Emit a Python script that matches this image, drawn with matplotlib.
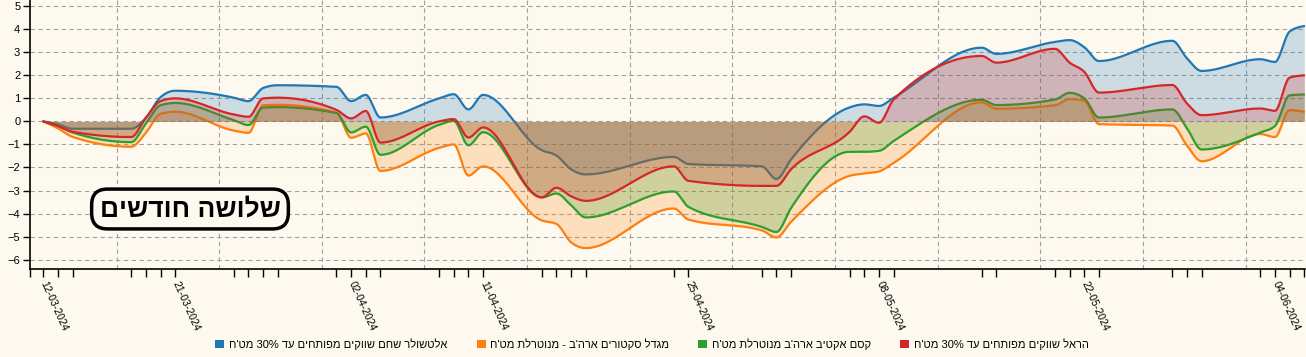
import re
import numpy as np
import pandas as pd
import matplotlib
matplotlib.use("Agg")
import matplotlib.pyplot as plt
import matplotlib.dates as mdates
from matplotlib.patches import Patch

# trading days shown on the chart
dates = ["2024-03-12", "2024-03-13", "2024-03-14", "2024-03-18", "2024-03-19", "2024-03-20", "2024-03-21",
         "2024-03-25", "2024-03-26", "2024-03-27", "2024-03-28",
         "2024-04-01", "2024-04-02", "2024-04-03", "2024-04-04",
         "2024-04-08", "2024-04-09", "2024-04-10", "2024-04-11",
         "2024-04-15", "2024-04-16", "2024-04-17", "2024-04-18",
         "2024-04-24", "2024-04-25",
         "2024-04-30", "2024-05-01", "2024-05-02",
         "2024-05-06", "2024-05-07", "2024-05-08", "2024-05-09",
         "2024-05-15", "2024-05-16",
         "2024-05-20", "2024-05-21", "2024-05-22", "2024-05-23",
         "2024-05-28", "2024-05-29", "2024-05-30",
         "2024-06-03", "2024-06-04", "2024-06-05", "2024-06-06"]

# cumulative return (%)
altshuler = [0, -0.12, -0.32, -0.32, 0.15, 1.05, 1.33,
             1.03, 0.88, 1.45, 1.57,
             1.5, 0.88, 1.15, 0.17,
             1.0, 1.18, 0.52, 1.15,
             -1.25, -1.48, -2.08, -2.3,
             -1.54, -1.85,
             -1.95, -2.5, -1.65,
             0.61, 0.74, 0.67, 1.03,
             3.2, 2.93,
             3.45, 3.53, 3.22, 2.62,
             3.5, 2.74, 2.19,
             2.7, 2.58, 3.9, 4.14]
migdal = [0, -0.3, -0.67, -1.1, -0.5, 0.33, 0.42,
          -0.4, -0.5, 0.7, 0.72,
          0.38, -0.71, -0.52, -2.15,
          -1.15, -1.0, -2.35, -1.95,
          -4.3, -4.45, -5.25, -5.5,
          -3.78, -4.26,
          -4.73, -5.04, -4.36,
          -2.36, -2.26, -2.17, -1.8,
          0.83, 0.55,
          0.7, 0.97, 0.9, -0.12,
          -0.18, -1.05, -1.73,
          -0.55, -0.68, 0.49, 0.42]
kesem = [0, -0.2, -0.48, -0.9, -0.1, 0.7, 0.8,
         0.05, -0.16, 0.6, 0.62,
         0.36, -0.48, -0.23, -1.45,
         -0.15, 0.02, -1.04, -0.47,
         -3.3, -3.13, -3.64, -4.17,
         -3.04, -3.71,
         -4.58, -4.8, -3.76,
         -1.32, -1.32, -1.28, -0.85,
         0.94, 0.71,
         0.95, 1.24, 1.0, 0.17,
         0.52, -0.3, -1.22,
         -0.48, -0.2, 1.13, 1.17]
harel = [0, -0.2, -0.45, -0.68, 0.15, 0.88, 1.0,
         0.3, 0.2, 1.0, 1.03,
         0.5, 0.13, 0.45, -0.92,
         0.0, 0.1, -0.7, -0.26,
         -3.3, -2.88, -3.25, -3.45,
         -1.95, -2.58,
         -2.8, -2.8, -2.08,
         -0.45, 0.22, -0.06, 0.95,
         2.84, 2.55,
         3.15, 2.55, 2.15, 1.25,
         1.58, 0.78, 0.27,
         0.56, 0.46, 1.9, 2.0]

names = ["אלטשולר שחם שווקים מפותחים עד 30% מט'ח",
         "מגדל סקטורים ארה'ב - מנוטרלת מט'ח",
         "קסם אקטיב ארה'ב מנוטרלת מט'ח",
         "הראל שווקים מפותחים עד 30% מט'ח"]
colors = ["#1f77b4", "#ff7f0e", "#2ca02c", "#d62728"]
title = "שלושה חודשים"

BG = "#fdf9ef"


def rtl(s):
    # matplotlib has no bidi: reverse, then put number runs back in order
    r = s[::-1]
    return re.sub(r"[0-9%.,]+", lambda m: m.group(0)[::-1], r)


def monotone(x, y, steps=24):
    # monotone cubic (like d3.curveMonotoneX)
    x = np.asarray(x, float)
    y = np.asarray(y, float)
    h = np.diff(x)
    s = np.diff(y) / h
    n = len(x)
    t = np.zeros(n)
    for i in range(1, n - 1):
        p = (s[i - 1] * h[i] + s[i] * h[i - 1]) / (h[i - 1] + h[i])
        t[i] = (np.sign(s[i - 1]) + np.sign(s[i])) * min(abs(s[i - 1]), abs(s[i]), 0.5 * abs(p))
    t[0] = (3 * s[0] - t[1]) / 2
    t[-1] = (3 * s[-1] - t[-2]) / 2
    xs, ys = [], []
    for i in range(n - 1):
        u = np.linspace(0, 1, steps, endpoint=(i == n - 2))
        h00 = 2 * u**3 - 3 * u**2 + 1
        h10 = u**3 - 2 * u**2 + u
        h01 = -2 * u**3 + 3 * u**2
        h11 = u**3 - u**2
        ys.append(h00 * y[i] + h10 * h[i] * t[i] + h01 * y[i + 1] + h11 * h[i] * t[i + 1])
        xs.append(x[i] + u * h[i])
    return np.concatenate(xs), np.concatenate(ys)


plt.rcParams["font.family"] = ["Liberation Sans", "DejaVu Sans"]

d = pd.to_datetime(dates)
x = mdates.date2num(d)

fig = plt.figure(figsize=(13.06, 3.57), dpi=100, facecolor=BG)
ax = fig.add_axes([30 / 1306, 1 - 269.3 / 357, 1275 / 1306, 269.3 / 357])
ax.set_facecolor(BG)

for i, (vals, c) in enumerate(zip([altshuler, migdal, kesem, harel], colors)):
    xs, ys = monotone(x, vals)
    ax.fill_between(xs, 0, ys, color=c, alpha=0.22, lw=0, zorder=2 + 2 * i)
    ax.plot(xs, ys, color=c, lw=1.6, zorder=3 + 2 * i, solid_capstyle="round")

ax.set_xlim(x[0] - 0.9, x[-1] + 0.05)
ax.set_ylim(-6.42, 5.27)

ax.set_yticks(range(-6, 6))
ax.set_xticks(list(x) + [x[0] - 0.9])
ax.set_xticklabels([dt.strftime("%d-%m-%Y") if i % 6 == 0 else "" for i, dt in enumerate(d)] + [""])
ax.xaxis.set_minor_locator(mdates.WeekdayLocator(byweekday=mdates.SU))

ax.tick_params(axis="x", which="major", length=6, width=1, labelsize=7.5, pad=3)
ax.tick_params(axis="x", which="minor", length=0)
ax.tick_params(axis="y", length=5, width=1, labelsize=8, pad=2)
plt.setp(ax.get_xticklabels(), rotation=-66, ha="left", va="center", rotation_mode="anchor")

grid_style = dict(color="#a0a0a0", linestyle=(0, (4, 3)), linewidth=0.8)
ax.grid(False)
ax.yaxis.grid(True, **grid_style)
ax.xaxis.grid(True, which="minor", **grid_style)
ax.set_axisbelow(True)

for side in ["top", "right"]:
    ax.spines[side].set_visible(False)
for side in ["left", "bottom"]:
    ax.spines[side].set_linewidth(1.2)

fig.text(190 / 1306, 1 - 209 / 357, rtl(title), fontsize=19, fontweight="bold",
         ha="center", va="center", zorder=20,
         bbox=dict(boxstyle="round,pad=0.3,rounding_size=0.6", fc=BG, ec="black", lw=2.5))

handles = [Patch(facecolor=c, edgecolor="none") for c in colors]
fig.legend(handles, [rtl(n) for n in names], loc="center", bbox_to_anchor=(652 / 1306, 1 - 344 / 357),
           ncol=4, frameon=False, handlelength=0.8, handleheight=0.8, handletextpad=0.4,
           columnspacing=2.65, fontsize=8.0)

fig.savefig("out.png", dpi=100, facecolor=BG)
